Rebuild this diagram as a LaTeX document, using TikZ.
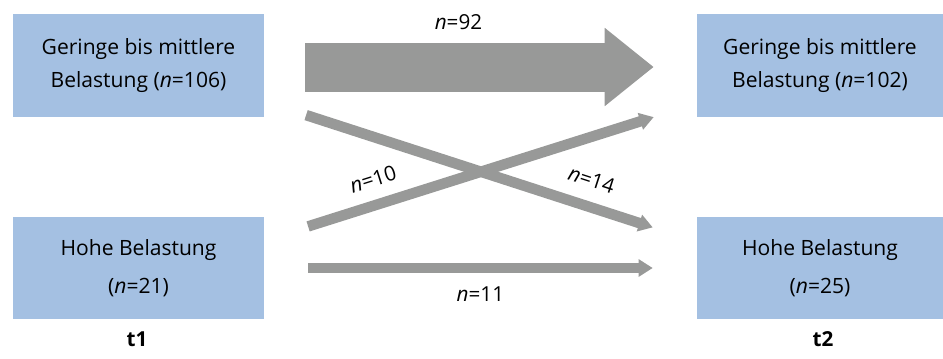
\documentclass[tikz,border=0pt]{standalone}
\usepackage{fontspec}
\setmainfont{Open Sans}
\usetikzlibrary{arrows.meta,calc,positioning}
\definecolor{boxblue}{RGB}{164,192,226}
\definecolor{flowgray}{RGB}{152,153,152}
\begin{document}
\begin{tikzpicture}[x=0.75pt,y=-0.75pt,
  group/.style={fill=boxblue,minimum width=188pt,minimum height=77pt,inner sep=0pt,align=center,font=\fontsize{15.8}{24.75}\selectfont},
  flow/.style={draw=flowgray,line width=7.5pt,-{Triangle[length=10.5pt,width=12.5pt]}},
  flowlbl/.style={outer sep=0pt,font=\fontsize{15.5}{18}\selectfont}]
  \useasboundingbox (0,0) rectangle (943,358);
  % Zeitpunkt t1
  \node[group] (g1) at (138.5,65.5) {Geringe bis mittlere\\Belastung (\textit{n}=106)};
  \node[group] (h1) at (138.5,268) {Hohe Belastung\\[3.75pt](\textit{n}=21)};
  \node[font=\fontsize{15.5}{18}\selectfont\bfseries] (t1) at (137,339) {t1};
  % Zeitpunkt t2
  \node[group,minimum width=184.5pt] (g2) at (820,65.5) {Geringe bis mittlere\\Belastung (\textit{n}=102)};
  \node[group,minimum width=184.5pt] (h2) at (820,268) {Hohe Belastung\\[3.75pt](\textit{n}=25)};
  \node[font=\fontsize{15.5}{18}\selectfont\bfseries] (t2) at (823,339) {t2};
  % Uebergaenge
  \draw[flow,line width=36.75pt,-{Triangle[length=36.75pt,width=56.25pt]}]
    ($(g1.east)+(41,1.5)$) -- ($(g2.west)+(-43,1.5)$)
    node[flowlbl,pos=0.44,above=24.5pt] (n92) {\textit{n}=92};
  \draw[flow,line width=7.9pt]
    ($(g1.south east)+(42,-2)$) -- ($(h2.north west)+(-44,11)$)
    node[flowlbl,sloped,pos=0.8,above=11pt] (n14) {\textit{n}=14};
  \draw[flow,line width=7.9pt]
    ($(h1.north east)+(44,10)$) -- ($(g2.south west)+(-43,0)$)
    node[flowlbl,sloped,pos=0.21,above=10pt] (n10) {\textit{n}=10};
  \draw[flow]
    ($(h1.east)+(44,0)$) -- ($(h2.west)+(-44,0)$)
    node[flowlbl,midway,below=10.5pt] (n11) {\textit{n}=11};
\end{tikzpicture}
\end{document}
